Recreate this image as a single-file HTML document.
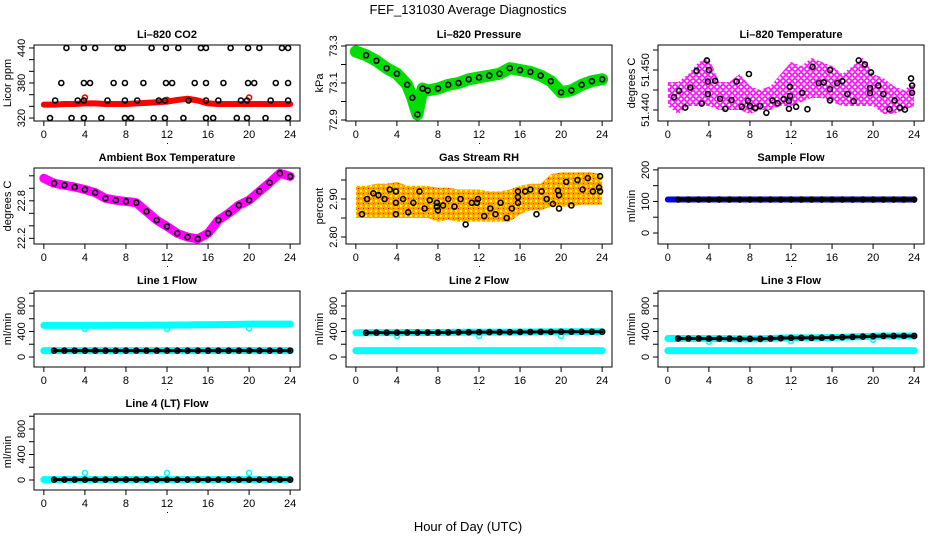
<!DOCTYPE html>
<html><head><meta charset="utf-8"><style>
body{margin:0;background:#fff}
svg{display:block;font-family:"Liberation Sans",sans-serif}
</style></head><body>
<svg id="c" width="936" height="540" xmlns="http://www.w3.org/2000/svg">
<defs>
<pattern id="magPat" width="6" height="6" patternUnits="userSpaceOnUse">
<rect width="6" height="6" fill="#fff"/>
<circle cx="3" cy="3" r="2.2" fill="none" stroke="#ff00ff" stroke-width="1.6"/>
</pattern>
<pattern id="rhPat" width="5" height="5" patternUnits="userSpaceOnUse">
<rect width="5" height="5" fill="#ffa500"/>
<rect x="0" y="0" width="2" height="2" fill="#ffff00"/>
<rect x="3" y="3" width="1" height="1" fill="#ff0000"/>
</pattern>
</defs>
<rect width="936" height="540" fill="#fff"/>
<text x="468" y="14" font-size="13" text-anchor="middle">FEF_131030  Average Diagnostics</text>
<text x="468" y="531" font-size="13" text-anchor="middle">Hour of Day (UTC)</text>
</svg>
<script>
const hours=[0,1,2,3,4,5,6,7,8,9,10,11,12,13,14,15,16,17,18,19,20,21,22,23,24];
const xTicks=[0,4,8,12,16,20,24];
// CO2
const co2Band=[343,343,344,344,345,345,344,344,344,345,346,347,348,351,353,350,345,344,344,344,344,344,344,344,344];
const co2BlkH=[2.2,3.9,5.0,7.2,7.7,10.5,11.9,13.1,15.3,15.8,18.2,19.9,21.0,23.2,23.8,1.7,3.9,4.5,6.8,7.9,9.7,11.9,12.5,14.7,15.8,17.5,19.9,20.5,22.6,23.8,1.1,3.3,3.9,6.2,7.9,9.1,11.2,11.8,14.1,15.8,17.0,19.2,19.8,22.1,23.8,0.6,2.7,3.9,5.6,7.9,8.5,10.7,11.8,13.6,15.8,16.5,18.8,19.8,21.6,23.8];
const co2BlkV=[440,440,440,440,440,440,440,440,440,440,440,440,440,440,440,380,380,380,380,380,380,380,380,380,380,380,380,380,380,380,350,350,350,350,350,350,350,350,350,350,350,350,350,350,350,320,320,320,320,320,320,320,320,320,320,320,320,320,320,320];
const co2OutH=[4,12,20];
const co2OutV=[355,351,355];
// Pressure
const presH=[0,1,2,3,4,5,5.5,6,6.5,7,8,9,10,11,12,13,14,15,16,17,18,19,20,21,22,23,24];
const presV=[73.27,73.25,73.22,73.18,73.15,73.09,73.02,72.93,73.07,73.06,73.07,73.09,73.10,73.12,73.13,73.14,73.15,73.18,73.17,73.16,73.14,73.11,73.05,73.06,73.09,73.11,73.12];
// Li-820 temperature
const tempLo=[51.441,51.439,51.441,51.441,51.441,51.440,51.440,51.440,51.439,51.440,51.440,51.441,51.441,51.442,51.443,51.443,51.442,51.441,51.441,51.441,51.441,51.439,51.439,51.440,51.441];
const tempHi=[51.447,51.447,51.449,51.452,51.453,51.447,51.447,51.449,51.446,51.445,51.446,51.449,51.452,51.451,51.453,51.452,51.451,51.449,51.451,51.453,51.449,51.448,51.446,51.445,51.447];
const tempBlkH=[0.6,1.1,1.7,2.2,2.8,3.3,3.8,3.9,3.9,4.0,4.6,5.1,5.6,6.2,6.7,7.2,7.8,7.9,8.0,8.5,9.0,9.6,10.2,10.7,11.3,11.8,11.8,11.9,11.9,12.5,13.1,13.6,14.1,14.7,15.2,15.8,15.8,15.8,16.5,17.0,17.5,18.1,18.6,19.2,19.7,19.7,19.8,20.5,21.0,21.6,22.1,22.6,23.1,23.7,23.8,23.8];
const tempBlkV=[51.4432,51.4448,51.4406,51.4456,51.4498,51.4416,51.4524,51.4471,51.444,51.450,51.4473,51.4428,51.4403,51.4425,51.4471,51.4408,51.4423,51.449,51.441,51.4405,51.441,51.4393,51.4424,51.4417,51.4427,51.4403,51.4422,51.4435,51.4458,51.4408,51.4443,51.4402,51.4508,51.4467,51.4469,51.4424,51.4452,51.450,51.4467,51.4472,51.444,51.4422,51.4524,51.4514,51.4442,51.4455,51.4494,51.4461,51.444,51.4402,51.4424,51.4406,51.4401,51.4479,51.4461,51.4443];
// Ambient
const ambV=[23.16,23.08,23.05,23.02,22.98,22.93,22.84,22.81,22.79,22.77,22.63,22.49,22.39,22.28,22.22,22.19,22.28,22.49,22.60,22.73,22.81,22.95,23.09,23.24,23.19];
// RH
const rhLo=[2.85,2.85,2.85,2.85,2.85,2.85,2.85,2.85,2.84,2.845,2.84,2.84,2.84,2.84,2.84,2.84,2.86,2.87,2.87,2.88,2.88,2.88,2.885,2.885,2.885];
const rhHi=[2.935,2.935,2.94,2.94,2.945,2.935,2.935,2.935,2.93,2.93,2.925,2.925,2.925,2.92,2.92,2.925,2.935,2.94,2.94,2.965,2.97,2.97,2.97,2.97,2.965];
const rhBlkH=[0.6,1.1,1.7,2.2,2.8,3.3,3.9,3.9,3.9,4.6,5.1,5.6,6.2,6.7,7.2,7.9,7.9,8.0,8.5,9.0,9.6,10.2,10.7,11.3,11.9,11.8,12.5,13.1,13.6,14.1,14.7,15.2,15.8,15.8,15.8,16.5,17.0,17.6,18.1,18.6,19.2,19.7,19.8,19.8,20.5,21.0,21.6,22.1,22.6,23.1,23.7,23.8,23.8];
const rhBlkV=[2.86,2.90,2.915,2.91,2.90,2.925,2.92,2.89,2.86,2.90,2.865,2.89,2.92,2.875,2.897,2.89,2.88,2.87,2.883,2.90,2.88,2.90,2.833,2.89,2.90,2.89,2.855,2.875,2.86,2.89,2.85,2.875,2.92,2.905,2.89,2.92,2.925,2.86,2.92,2.90,2.887,2.922,2.91,2.875,2.945,2.883,2.95,2.925,2.955,2.92,2.93,2.92,2.96];
// Flows
const sampleV=[106,106,106,106,106,106,106,106,106,106,106,106,106,106,106,106,106,106,106,106,106,106,106,106,106];
const l1Cyan=[495,495,495,495,495,495,495,497,497,497,498,500,500,502,502,505,505,508,510,512,515,515,515,515,515];
const l1Black=[100,100,100,100,100,100,100,100,100,100,100,100,100,100,100,100,100,100,100,100,100,100,100,100,100];
const l1Low=[100,100,100,100,100,100,100,100,100,100,100,100,100,100,100,100,100,100,100,100,100,100,100,100,100];
const l1OutV=[440,440,450];
const l2Black=[380,380,382,382,382,384,384,384,384,386,388,388,390,390,390,390,392,392,394,394,396,396,396,396,396];
const l2Low=[100,100,100,100,100,100,100,100,100,100,100,100,100,100,100,100,100,100,100,100,100,100,100,100,100];
const l2OutV=[330,330,330];
const l3Black=[290,290,290,290,288,288,288,285,285,285,290,295,300,300,300,302,305,310,315,320,325,330,330,330,330];
const l3Low=[100,100,100,100,100,100,100,100,100,100,100,100,100,100,100,100,100,100,100,100,100,100,100,100,100];
const l3OutV=[240,250,270];
const l4Black=[5,5,5,5,5,5,5,5,5,5,5,5,5,5,5,5,5,5,5,5,5,5,5,5,5];
const l4OutV=[110,110,110];
const outH=[4,12,20];

const NS='http://www.w3.org/2000/svg';
const svg=document.getElementById('c');
const colL=[34,346,658], rowT=[45,168,291,414], W=266, H=76;
function mk(tag,attrs,parent){const e=document.createElementNS(NS,tag);for(const k in attrs)e.setAttribute(k,attrs[k]);(parent||svg).appendChild(e);return e;}
function panel(col,row,title,ytitle,ymin,ymax,yticks,ylabels,name){
  const L=colL[col],T=rowT[row];
  const g=mk('g',{});
  
  
  const xs=h=>L+(h+0.96)/25.92*W;
  const ys=v=>T+H-(v-ymin)/(ymax-ymin)*H;
  const t=mk('text',{x:L+W/2,y:T-7,'font-size':11,'font-weight':'bold','text-anchor':'middle'},g);t.textContent=title;
  
  
  const box=mk('rect',{x:L,y:T,width:W,height:H,fill:'none',stroke:'#000','stroke-width':1},g);
  
  
  const xa=mk('g',{},g);
  
  
  xTicks.forEach(h=>{const x=xs(h);mk('line',{x1:x,x2:x,y1:T+H,y2:T+H+5,stroke:'#000'},xa);
    const tx=mk('text',{x:x,y:T+H+17,'font-size':11,'text-anchor':'middle'},xa);tx.textContent=h;});
  mk('line',{x1:xs(0),x2:xs(24),y1:T+H,y2:T+H,stroke:'#000'},xa);
  mk('rect',{x:L+W/2,y:T+H+22,width:1,height:1,fill:'#000'},xa);
  const ya=mk('g',{},g);
  
  
  yticks.forEach((v,i)=>{const y=ys(v);mk('line',{x1:L-5,x2:L,y1:y,y2:y,stroke:'#000'},ya);
    if(ylabels[i]){const tx=mk('text',{x:0,y:0,'font-size':11,'text-anchor':'middle',transform:`translate(${L-9},${y}) rotate(-90)`},ya);tx.textContent=ylabels[i];}});
  const yt=mk('text',{x:0,y:0,'font-size':11,'text-anchor':'middle',transform:`translate(${L-23},${T+H/2}) rotate(-90)`},g);yt.textContent=ytitle;
  
  
  const clip='clip'+name;
  const cp=mk('clipPath',{id:clip},g);mk('rect',{x:L,y:T,width:W,height:H},cp);
  const d=mk('g',{'clip-path':`url(#${clip})`},g);
  return {xs,ys,d,name};
}
function band(p,hs,vs,color,w,nm){const pts=hs.map((h,i)=>p.xs(h)+','+p.ys(vs[i])).join(' ');
  const e=mk('polyline',{points:pts,fill:'none',stroke:color,'stroke-width':w,'stroke-linejoin':'round','stroke-linecap':'round'},p.d);
  
  }
function area(p,hs,lo,hi,fill,nm){const a=hs.map((h,i)=>p.xs(h)+','+p.ys(hi[i]));const b=hs.map((h,i)=>p.xs(h)+','+p.ys(lo[i])).reverse();
  const e=mk('polygon',{points:a.concat(b).join(' '),fill:fill,stroke:'none'},p.d);
  
  }
function pts(p,hs,vs,color,nm){const g=mk('g',{},p.d);
  
  
  hs.forEach((h,i)=>mk('circle',{cx:p.xs(h),cy:p.ys(vs[i]),r:2.5,fill:'none',stroke:color,'stroke-width':1.6},g));}

let p=panel(0,0,'Li\u2013820 CO2','Licor ppm',314.9,445.1,[320,340,360,380,400,420,440],['320','','','380','','','440'],'co2');
band(p,hours,co2Band,'#ff0000',6,'co2-red-series');
pts(p,co2OutH,co2OutV,'#ff0000','co2-red-outliers');
pts(p,co2BlkH,co2BlkV,'#000','co2-black-points');

p=panel(1,0,'Li\u2013820 Pressure','kPa',72.8946,73.3054,[72.9,73.0,73.1,73.2,73.3],['72.9','','73.1','','73.3'],'pressure');
band(p,presH,presV,'#00dd00',12,'pressure-green-series');
pts(p,presH.slice(1),presV.slice(1),'#000','pressure-black-points');

p=panel(2,0,'Li\u2013820 Temperature','degrees C',51.43725,51.45625,[51.440,51.445,51.450,51.455],['51.440','','51.450',''],'li820-temp');
area(p,hours,tempLo,tempHi,'url(#magPat)','temp-magenta-series');
pts(p,tempBlkH,tempBlkV,'#000','temp-black-points');

p=panel(0,1,'Ambient Box Temperature','degrees C',22.109,23.325,[22.2,22.4,22.6,22.8,23.0,23.2],['22.2','','','22.8','',''],'ambient');
band(p,hours,ambV,'#ff00ff',9,'ambient-magenta-series');
pts(p,hours.slice(1),ambV.slice(1),'#000','ambient-black-points');

p=panel(1,1,'Gas Stream RH','percent',2.7816,2.9816,[2.80,2.85,2.90,2.95],['2.80','','2.90',''],'rh');
area(p,hours,rhLo,rhHi,'url(#rhPat)','rh-orange-series');
pts(p,rhBlkH,rhBlkV,'#000','rh-black-points');

p=panel(2,1,'Sample Flow','ml/min',-34.9,206,[0,50,100,150,200],['0','','100','','200'],'sample-flow');
band(p,hours,sampleV,'#0000ee',6,'sample-flow-blue-series');
band(p,hours.slice(1),sampleV.slice(1),'#000',3,'sample-flow-black-line');
pts(p,hours.slice(1),sampleV.slice(1),'#000','sample-flow-black-points');
const fT=[0,200,400,600,800,1000], fL=['0','','400','','800',''];

p=panel(0,2,'Line 1 Flow','ml/min',-157,1035,fT,fL,'line1');
band(p,hours,l1Cyan,'#00ffff',7,'line1-cyan-high');
band(p,hours,l1Low,'#00ffff',7,'line1-cyan-low');
pts(p,outH,l1OutV,'#00ffff','line1-cyan-outliers');
band(p,hours.slice(1),l1Black.slice(1),'#000',3,'line1-black-line');
pts(p,hours.slice(1),l1Black.slice(1),'#000','line1-black-points');

p=panel(1,2,'Line 2 Flow','ml/min',-157,1035,fT,fL,'line2');
band(p,hours,l2Black,'#00ffff',7,'line2-cyan-high');
band(p,hours,l2Low,'#00ffff',7,'line2-cyan-low');
pts(p,outH,l2OutV,'#00ffff','line2-cyan-outliers');
band(p,hours.slice(1),l2Black.slice(1),'#000',3,'line2-black-line');
pts(p,hours.slice(1),l2Black.slice(1),'#000','line2-black-points');

p=panel(2,2,'Line 3 Flow','ml/min',-157,1035,fT,fL,'line3');
band(p,hours,l3Black,'#00ffff',7,'line3-cyan-high');
band(p,hours,l3Low,'#00ffff',7,'line3-cyan-low');
pts(p,outH,l3OutV,'#00ffff','line3-cyan-outliers');
band(p,hours.slice(1),l3Black.slice(1),'#000',3,'line3-black-line');
pts(p,hours.slice(1),l3Black.slice(1),'#000','line3-black-points');

p=panel(0,3,'Line 4 (LT) Flow','ml/min',-157,1035,fT,fL,'line4');
band(p,hours,l4Black,'#00ffff',7,'line4-cyan');
pts(p,outH,l4OutV,'#00ffff','line4-cyan-outliers');
band(p,hours.slice(1),l4Black.slice(1),'#000',3,'line4-black-line');
pts(p,hours.slice(1),l4Black.slice(1),'#000','line4-black-points');
</script>
</body></html>
